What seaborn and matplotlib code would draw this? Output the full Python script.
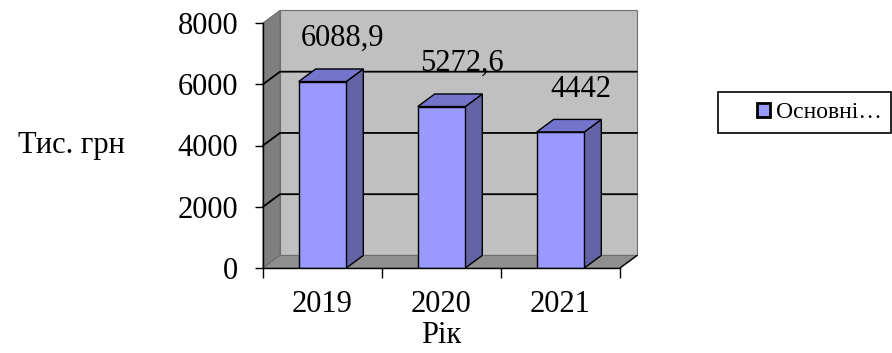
import matplotlib
matplotlib.use("Agg")
import matplotlib.pyplot as plt
from matplotlib.patches import Polygon, Rectangle
import numpy as np
import pandas as pd
import seaborn as sns

# Data
years = ["2019", "2020", "2021"]
values = [6088.9, 5272.6, 4442]
series_name = "Основні…"
y_ticks = [0, 2000, 4000, 6000, 8000]

# Colours
front_color = "#9999FF"
side_color = "#6363A5"
top_color = "#7474CC"
back_wall_color = "#C0C0C0"
side_wall_color = "#7F7F7F"
floor_color = "#8F8F8F"

sns.set_style("ticks")
plt.rcParams["font.family"] = ["Liberation Serif", "DejaVu Serif"]
plt.rcParams["text.color"] = "black"
plt.rcParams["axes.labelcolor"] = "black"
plt.rcParams["xtick.color"] = "black"
plt.rcParams["ytick.color"] = "black"

fig = plt.figure(figsize=(8.92, 3.53), dpi=100)
ax = fig.add_axes([263 / 892, 85 / 353, 357 / 892, 245 / 353])

df = pd.DataFrame({"Рік": years, "value": values, "series": series_name})
sns.barplot(data=df, x="Рік", y="value", hue="series", palette=[front_color],
            width=0.4, saturation=1, edgecolor="black", linewidth=1.0,
            ax=ax, zorder=3)

ax.set_xlim(-0.5, 2.5)
ax.set_ylim(0, 8000)

# depth offset of the pseudo-3D box (data units)
dx, dy = 0.143, 410
ymax = y_ticks[-1]

# walls and floor
ax.add_patch(Polygon([(-0.5 + dx, dy), (2.5 + dx, dy), (2.5 + dx, ymax + dy), (-0.5 + dx, ymax + dy)],
                     closed=True, facecolor=back_wall_color, edgecolor="#6E6E6E", lw=0.8,
                     zorder=0.1, clip_on=False))
ax.add_patch(Polygon([(-0.5, 0), (-0.5 + dx, dy), (-0.5 + dx, ymax + dy), (-0.5, ymax)],
                     closed=True, facecolor=side_wall_color, edgecolor="#6E6E6E", lw=0.8,
                     zorder=0.2, clip_on=False))
ax.add_patch(Polygon([(-0.5, 0), (2.5, 0), (2.5 + dx, dy), (-0.5 + dx, dy)],
                     closed=True, facecolor=floor_color, edgecolor="#6E6E6E", lw=0.8,
                     zorder=0.3, clip_on=False))
ax.plot([2.5, 2.5 + dx], [0, dy], color="black", lw=1.0, zorder=0.4, clip_on=False)

# gridlines on the side and back walls
for g in y_ticks[1:-1]:
    ax.plot([-0.5, -0.5 + dx, 2.5 + dx], [g, g + dy, g + dy], color="black",
            lw=1.3, zorder=0.5, clip_on=False)

# side and top faces of each bar, plus value labels
for p, v in zip(ax.patches[:len(values)], values):
    x0, w, h = p.get_x(), p.get_width(), p.get_height()
    x1 = x0 + w
    ax.add_patch(Polygon([(x1, 0), (x1 + dx, dy), (x1 + dx, h + dy), (x1, h)],
                         closed=True, facecolor=side_color, edgecolor="black",
                         lw=1.0, zorder=2.9, clip_on=False))
    ax.add_patch(Polygon([(x0, h), (x1, h), (x1 + dx, h + dy), (x0 + dx, h + dy)],
                         closed=True, facecolor=top_color, edgecolor="black",
                         lw=1.0, zorder=2.9, clip_on=False))
    label = f"{v:g}".replace(".", ",")
    ax.text(x0 + w / 2 + 0.17, v + 1400, label, ha="center", va="center",
            fontsize=22, color="black", zorder=5, clip_on=False)

# axes styling
for s in ["top", "right"]:
    ax.spines[s].set_visible(False)
for s in ["left", "bottom"]:
    ax.spines[s].set_color("black")
    ax.spines[s].set_linewidth(1.0)
    ax.spines[s].set_zorder(4)

ax.set_yticks(y_ticks)
ax.set_yticklabels([str(t) for t in y_ticks])
ax.tick_params(axis="y", length=5.8, width=1.0, color="black", labelcolor="black",
               pad=12, labelsize=22)
ax.set_xticks(np.arange(-0.5, len(years)), minor=True)
ax.tick_params(axis="x", which="minor", length=7.2, width=1.0, color="black")
ax.tick_params(axis="x", which="major", length=0, pad=16, labelsize=22,
               labelcolor="black")
ax.set_xlabel("Рік", fontsize=22, labelpad=1, color="black")
ax.set_ylabel("")

fig.text(71 / 892, 1 - 146 / 353, "Тис. грн", ha="center", va="center",
         fontsize=22, color="black")

# legend
sns.move_legend(ax, "center left", bbox_to_anchor=(757 / 892, 1 - 113 / 353),
                bbox_transform=fig.transFigure, frameon=False, title=None,
                fontsize=17, handlelength=0.55, handleheight=0.55,
                handletextpad=0.25, borderpad=0, borderaxespad=0)
leg = ax.get_legend()
for t in leg.get_texts():
    t.set_color("black")
for h in leg.legend_handles:
    h.set_edgecolor("black")
    h.set_linewidth(2.0)
    h.set_facecolor(front_color)
fig.add_artist(Rectangle((718 / 892, 1 - 133 / 353), 173 / 892, 41 / 353,
                         transform=fig.transFigure, fill=False,
                         edgecolor="black", lw=1.2))

fig.savefig("out.png", dpi=100)
